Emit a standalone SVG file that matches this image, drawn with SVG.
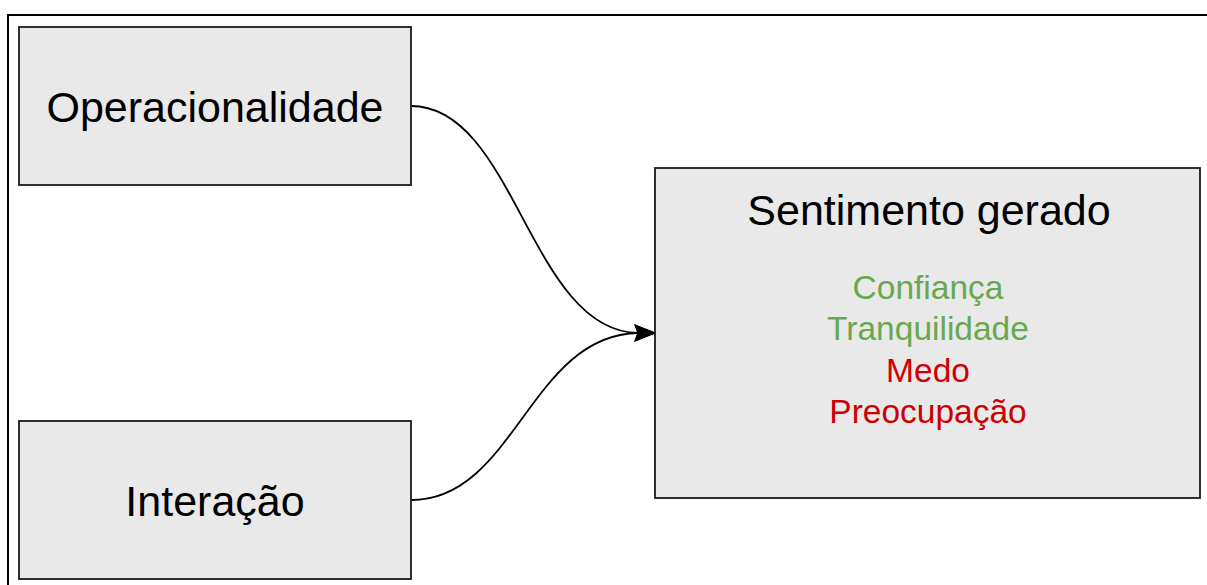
<svg xmlns="http://www.w3.org/2000/svg" width="1207" height="585" viewBox="0 0 1207 585">
<defs>
<style>
.box{fill:#e9e9e9;stroke:#1a1a1a;stroke-width:1.8}
.t{font-family:"Liberation Sans",Arial,sans-serif;text-anchor:middle}
.big{font-size:43px;fill:#000}
.sm{font-size:33.5px}
.g{fill:#6aa84f}
.r{fill:#cc0000}
.c{fill:none;stroke:#000;stroke-width:1.8}
</style>
<marker id="ah" markerWidth="20" markerHeight="16" refX="3" refY="8" orient="auto" markerUnits="userSpaceOnUse" overflow="visible">
<path d="M0,0 L20,8 L0,16 L3,8 Z" fill="#000" stroke="#000" stroke-width="1"/>
</marker>
</defs>
<rect width="1207" height="585" fill="#fff"/>
<path d="M8,585 L8,15 L1207,15" fill="none" stroke="#000" stroke-width="2"/>
<g id="connectors">
<path class="c" d="M411,106 C515,106 530,331 638,333" marker-end="url(#ah)"/>
<path class="c" d="M411,500 C515,500 530,335 638,333" marker-end="url(#ah)"/>
</g>
<g id="operacionalidade">
<rect class="box" x="19" y="27" width="392" height="158"/>
<text class="t big" x="215" y="122">Operacionalidade</text>
</g>
<g id="interacao">
<rect class="box" x="19" y="421" width="392" height="158"/>
<text class="t big" x="215" y="516">Interação</text>
</g>
<g id="sentimento">
<rect class="box" x="655" y="168" width="545" height="330"/>
<text class="t big" x="929" y="225">Sentimento gerado</text>
<text class="t sm g" x="928" y="299">Confiança</text>
<text class="t sm g" x="928" y="340">Tranquilidade</text>
<text class="t sm r" x="928" y="382">Medo</text>
<text class="t sm r" x="928" y="423">Preocupação</text>
</g>
</svg>
